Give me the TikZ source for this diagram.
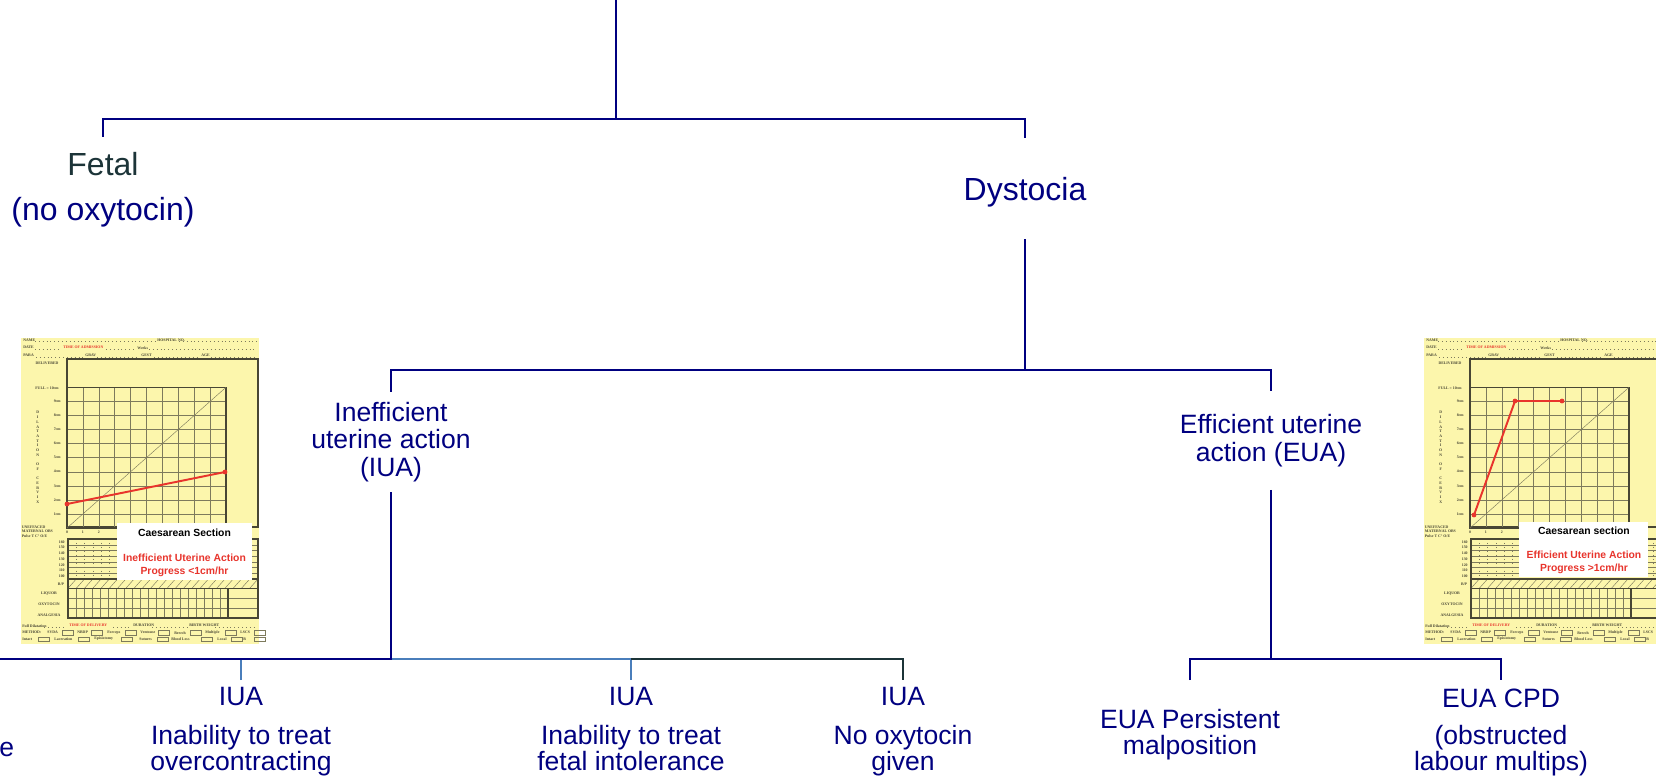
\documentclass[tikz,border=0pt]{standalone}
\usepackage{fontspec}
\setmainfont{Liberation Sans}
\newfontfamily\serifpt{Liberation Serif}
\usepackage{xcolor}
\usepackage{tikz}
\usetikzlibrary{positioning}
\definecolor{azulmarino}{RGB}{0,0,128}
\definecolor{azulacero}{RGB}{74,126,187}
\definecolor{pizarra}{RGB}{28,52,56}
\definecolor{amarillo}{RGB}{252,246,172}
\definecolor{rejilla}{RGB}{125,122,92}
\definecolor{borde}{RGB}{72,70,52}
\definecolor{rojo}{RGB}{232,52,44}

\tikzset{
  rama/.style={draw=azulmarino, line width=1.15pt},
  ramaazul/.style={draw=azulacero, line width=1.15pt},
  ramaoscura/.style={draw=pizarra, line width=1.15pt},
  etiqueta/.style={text=azulmarino, align=center, inner xsep=0pt, anchor=north},
  grande/.style={etiqueta, font=\fontsize{18.2}{25.9}\selectfont},
  medio/.style={etiqueta, font=\fontsize{15.1}{15.65}\selectfont},
  hoja/.style={etiqueta, font=\fontsize{15.1}{15.1}\selectfont},
  diminuto/.style={font=\serifpt\bfseries\fontsize{2.2}{2.4}\selectfont, inner sep=0pt, text=borde},
  fina/.style={draw=rejilla, line width=0.25pt},
  marco/.style={draw=borde, line width=0.7pt},
  punteado/.style={draw=rejilla, line width=0.2pt, dotted},
  trazo/.style={draw=rojo, line width=1.1pt},
  titulo/.style={font=\bfseries\fontsize{5.9}{7.4}\selectfont, inner sep=0pt},
  aviso/.style={font=\bfseries\fontsize{5.9}{7.4}\selectfont, text=rojo, align=center, inner sep=0pt},
  pics/partograma/.style={code={
    % Fondo de la hoja
    \fill[amarillo] (0,0) rectangle (238,306);
    % Cabecera
    \node[diminuto, anchor=west] (-nombre) at (2,2) {NAME};
    \node[diminuto, anchor=west] (-hosp) at (136,2) {HOSPITAL NO.};
    \node[diminuto, anchor=west] (-fecha) at (2,9.7) {DATE};
    \node[diminuto, anchor=west, text=rojo] (-ingreso) at (42,9.7) {TIME OF ADMISSION};
    \node[diminuto, anchor=west] (-semanas) at (116,9.7) {Weeks};
    \node[diminuto, anchor=west] (-para) at (2,17.7) {PARA};
    \node[diminuto, anchor=west] (-grav) at (64,17.7) {GRAV};
    \node[diminuto, anchor=west] (-gest) at (120,17.7) {GEST};
    \node[diminuto, anchor=west] (-edad) at (180,17.7) {AGE};
    \foreach \y/\a/\b in {3/14/134, 3/158/236, 10.7/14/41, 10.7/85/114, 10.7/128/236,
                          18.7/15/62, 18.7/76/118, 18.7/133/178, 18.7/190/236}
        \draw[punteado] (\a,\y) -- (\b,\y);
    % Recuadro y rejilla de dilatacion
    \draw[marco] (46,21) rectangle (237,189);
    \foreach \col in {1,...,9}
        \draw[fina] ({46+15.9*\col},49.3) -- ({46+15.9*\col},190);
    \foreach \fil in {1,...,9}
        \draw[fina] (46,{49.3+14.07*\fil}) -- (205,{49.3+14.07*\fil});
    \draw[marco] (46,49.3) rectangle (205,190);
    \draw[fina] (46,190) -- (205,49.3);
    % Etiquetas de la izquierda
    \node[diminuto] (-entregado) at (26,25) {DELIVERED};
    \node[diminuto] (-completa) at (26,50.5) {FULL = 10cm};
    \foreach \k in {1,...,9}
        \node[diminuto, anchor=east] (-cm\k) at (40,{190-14.07*\k}) {\k cm};
    \foreach \l [count=\i] in {D,I,L,A,T,A,T,I,O,N,,O,F,,C,E,R,V,I,X}
        \node[diminuto] (-letra\i) at (16.7,{70+4.7*\i}) {\l};
    \foreach \k in {0,1,2}
        \node[diminuto] (-hora\k) at ({46+15.9*\k},194) {\k};
    \node[diminuto, anchor=west] (-borrado) at (0.5,189) {UNEFFACED};
    \node[diminuto, anchor=west] (-materno) at (0.5,193.5) {MATERNAL OBS};
    \node[diminuto, anchor=west] (-pulso) at (0.5,198) {Pulse T C° O/E};
    % Rejilla del pulso
    \foreach \k in {1,...,6}
        \draw[fina] (47,{201+5.71*\k}) -- (237,{201+5.71*\k});
    \foreach \k in {1,...,22}
        \draw[fina, dotted] ({47+8.26*\k},201) -- ({47+8.26*\k},241);
    \draw[marco] (47,201) rectangle (237,241);
    \foreach \v [count=\k] in {160,150,140,130,120,110,100}
        \node[diminuto, anchor=east] (-lpm\k) at (44,{198.2+5.71*\k}) {\v};
    % Fila B/P
    \foreach \k in {0,...,22}
        \draw[fina] ({47+8.26*\k},250.3) -- ({47+8.26*(\k+1)},241);
    \draw[marco] (47,241) rectangle (237,250.3);
    \node[diminuto] (-bp) at (40,246) {B/P};
    % Liquido, oxitocina, analgesia
    \foreach \k in {1,...,19}
        \draw[fina] ({47+8*\k},250.3) -- ({47+8*\k},280);
    \foreach \y in {260.2,270.1}
        \draw[fina] (47,\y) -- (237,\y);
    \draw[marco] (47,250.3) rectangle (237,280);
    \draw[marco] (207,250.3) -- (207,280);
    \node[diminuto] (-liquido) at (28,256) {LIQUOR};
    \node[diminuto] (-oxito) at (28,266.5) {OXYTOCIN};
    \node[diminuto] (-analg) at (28,277) {ANALGESIA};
    % Pie de la hoja
    \node[diminuto, anchor=west] (-dilat) at (1,287.7) {Full Dilatation};
    \node[diminuto, anchor=west, text=rojo] (-parto) at (48,287.7) {TIME OF DELIVERY};
    \node[diminuto, anchor=west] (-duracion) at (112,287.7) {DURATION};
    \node[diminuto, anchor=west] (-peso) at (168,287.7) {BIRTH WEIGHT};
    \foreach \a/\b in {23/46, 92/110, 131/166, 194/236}
        \draw[punteado] (\a,288.7) -- (\b,288.7);
    \foreach \x/\t [count=\i] in {1/METHOD:, 26/SVDA, 56/NBDP, 86/Forceps, 119/Ventouse,
                                  153/Breech, 184/Multiple, 219/LSCS}
        \node[diminuto, anchor=west] (-metodo\i) at (\x,294.7) {\t};
    \foreach \x in {41,70.5,104,137.5,169,204.4,233.5}
        \draw[fina] (\x,292.5) rectangle ++(11,4.4);
    \foreach \x/\t [count=\i] in {1/Intact, 33/Laceration, 73/Episiotomy, 118/Sutures,
                                  150/Blood Loss, 196/Local, 222/B/T}
        \node[diminuto, anchor=west] (-perine\i) at (\x,301) {\t};
    \foreach \x in {17,57,100,136,180,210,233}
        \draw[fina] (\x,298.8) rectangle ++(11,4.4);
  }}
}

\begin{document}
\begin{tikzpicture}[x=0.02cm, y=-0.02cm]
    \useasboundingbox (0,0) rectangle (1656,779);

    % Partogramas
    \pic (izq) at (21,338) {partograma};
    \pic (der) at (1424,338) {partograma};
    \begin{scope}[shift={(21,338)}]
        \draw[trazo] (46,166) -- (204,134);
        \foreach \p in {(46,166),(204,134)}
            \fill[rojo] \p circle (2.4);
        \fill[white] (96,185) rectangle (231,242);
        \node[titulo] (izq-cesarea) at (163.5,195) {Caesarean Section};
        \node[aviso] (izq-aviso) at (163.5,227.5) {Inefficient Uterine Action\\Progress <1cm/hr};
    \end{scope}
    \begin{scope}[shift={(1424,338)}]
        \draw[trazo] (50,177) -- (91,63) -- (138,63);
        \foreach \p in {(50,177),(91,63),(138,63)}
            \fill[rojo] \p circle (2.4);
        \fill[white] (95,184) rectangle (224,239);
        \node[titulo] (der-cesarea) at (160,192.7) {Caesarean section};
        \node[aviso] (der-aviso) at (160,224) {Efficient Uterine Action\\Progress >1cm/hr};
    \end{scope}

    % Nodos del arbol
    \node[grande, inner ysep=8.3pt] (fetal) at (103,137)
        {{\color{pizarra}Fetal}\\(no oxytocin)};
    \node[grande, inner ysep=22pt, text depth=0pt] (distocia) at (1025,138) {Dystocia};
    \node[medio, inner ysep=5.6pt] (iua) at (391,392) {Inefficient\\uterine action\\(IUA)};
    \node[medio, inner ysep=13.1pt] (eua) at (1271,391) {Efficient uterine\\action (EUA)};
    \node[hoja, inner ysep=4pt] (iuaA) at (241,680) {IUA\\[6.8pt]Inability to treat\\overcontracting};
    \node[hoja, inner ysep=4pt] (iuaB) at (631,680) {IUA\\[6.8pt]Inability to treat\\fetal intolerance};
    \node[hoja, inner ysep=4pt] (iuaC) at (903,680) {IUA\\[6.8pt]No oxytocin\\given};
    \node[hoja, inner ysep=16.2pt] (euaP) at (1190,680) {EUA Persistent\\malposition};
    \node[hoja, inner ysep=4.8pt] (euaC) at (1501,680) {EUA CPD\\[6pt](obstructed\\labour multips)};
    \node[hoja, anchor=base east, inner sep=0pt] (recorte) at (14.5,756) {e};

    % Puntos de union
    \coordinate (raiz) at (616,0);
    \coordinate (nudo1) at (616,119);
    \coordinate (nudo2) at (1025,370);
    \coordinate (nudo3) at (391,659);
    \coordinate (nudo4) at (1271,659);
    \coordinate (bordeizq) at (0,659);

    % Conectores
    \draw[rama] (raiz) -- (nudo1);
    \draw[rama] (nudo1) -| (fetal.north);
    \draw[rama] (nudo1) -| (distocia.north);
    \draw[rama] (distocia.south) -- (nudo2);
    \draw[rama] (nudo2) -| (iua.north);
    \draw[rama] (nudo2) -| (eua.north);
    \draw[ramaazul] (iuaA.north) -- (iuaA.north |- nudo3);
    \draw[ramaazul] (nudo3) -| (iuaB.north);
    \draw[ramaoscura] (iuaB.north |- nudo3) -| (iuaC.north);
    \draw[rama] (iua.south) -- (nudo3) -- (bordeizq);
    \draw[rama] (eua.south) -- (nudo4);
    \draw[rama] (euaP.north) |- (nudo4) -| (euaC.north);
\end{tikzpicture}
\end{document}
